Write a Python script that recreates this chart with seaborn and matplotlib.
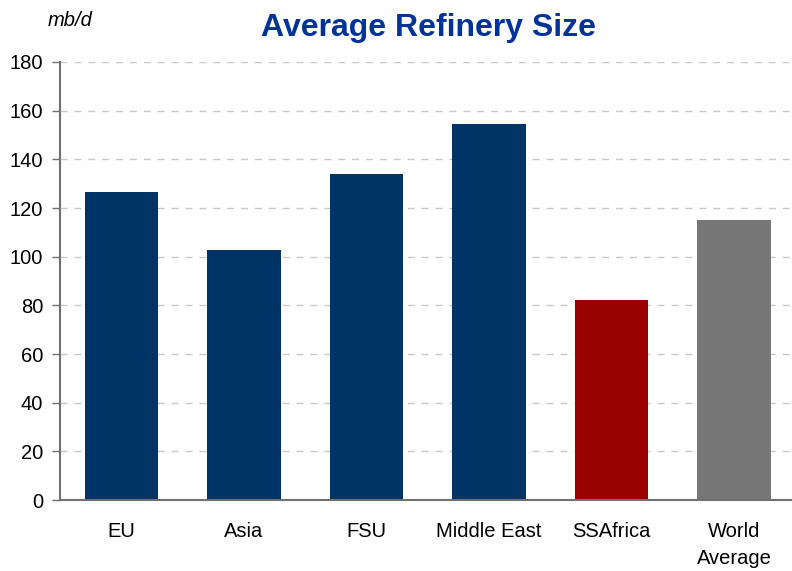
import matplotlib
matplotlib.use("Agg")
import matplotlib.pyplot as plt
import seaborn as sns
import pandas as pd

categories = ["EU", "Asia", "FSU", "Middle East", "SSAfrica", "World\nAverage"]
values = [126.6, 102.7, 134.0, 154.5, 82.2, 115.1]
bar_colors = ["#003366", "#003366", "#003366", "#003366", "#990000", "#777777"]
yticks = [0, 20, 40, 60, 80, 100, 120, 140, 160, 180]

sns.set_theme(style="white")
plt.rcParams['font.family'] = ['Liberation Sans', 'DejaVu Sans']

df = pd.DataFrame({"region": categories, "value": values})

fig = plt.figure(figsize=(7.92, 5.71), dpi=100)
ax = fig.add_axes([60/792, 1 - 500/571, 1 - 60/792 + 0.004, (500 - 62)/571])

sns.barplot(data=df, x="region", y="value", hue="region", palette=bar_colors,
            width=0.6, ax=ax, legend=False, saturation=1, linewidth=0)

ax.set_ylim(0, 180)
ax.set_xlim(-0.5, 5.5)
ax.set_yticks(yticks)
ax.set_yticklabels([str(t) for t in yticks], fontsize=14.5, color="black")
ax.tick_params(axis="y", direction="out", length=6, width=1, color="#707070", pad=6, left=True)
ax.tick_params(axis="x", length=0, labelsize=14.5, pad=16, colors="black")
for lbl in ax.get_xticklabels():
    lbl.set_linespacing(1.55)
ax.set_xlabel("")
ax.set_ylabel("")
ax.yaxis.grid(True, linestyle=(0, (5, 5)), color="#c8c8c8", linewidth=1)
ax.set_axisbelow(True)
for s in ["top", "right"]:
    ax.spines[s].set_visible(False)
for s in ["left", "bottom"]:
    ax.spines[s].set_color("#707070")
    ax.spines[s].set_linewidth(1.5)

fig.text(428/792, 1 - 28/571, "Average Refinery Size", ha="center", va="center",
         fontsize=23, fontweight="bold", color="#003399")
fig.text(70/792, 1 - 20/571, "mb/d", ha="center", va="center",
         fontsize=14.5, fontstyle="italic", color="black")

fig.savefig("out.png", dpi=100)
